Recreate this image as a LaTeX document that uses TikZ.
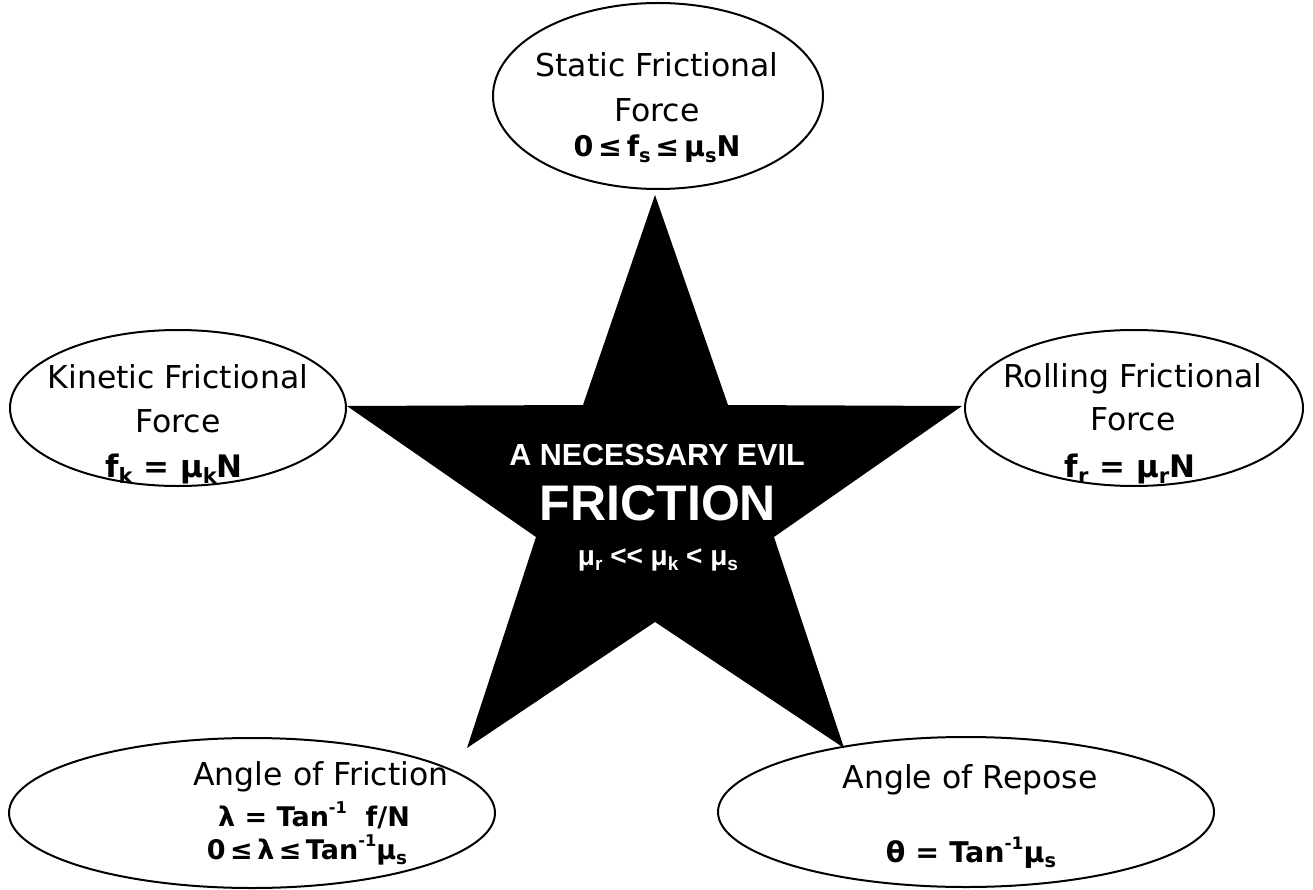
\documentclass[tikz,border=0pt]{standalone}
\usepackage{fontspec}
\setmainfont{DejaVu Sans}
\newfontfamily\arialf{Liberation Sans}
\usetikzlibrary{shapes.geometric}
\newcommand\lo[1]{\raisebox{-0.2em}{\scalebox{0.68}{#1}}}
\newcommand\hi[1]{\raisebox{0.45em}{\scalebox{0.6}{#1}}}
\begin{document}
\begin{tikzpicture}[x=1pt,y=-1pt,
  oval/.style={ellipse, draw=black, line width=2pt, fill=white, inner sep=0pt},
  lbl/.style={anchor=base, inner sep=0pt, font=\fontsize{31.5}{31.5}\selectfont},
  frm/.style={anchor=base, inner sep=0pt, font=\fontsize{28.5}{28.5}\selectfont\bfseries},
  frms/.style={anchor=base, inner sep=0pt, font=\fontsize{27}{27}\selectfont\bfseries},
  startxt/.style={anchor=base, inner sep=0pt, text=white}]
\useasboundingbox (0,0) rectangle (1313,890);
\fill[white] (0,0) rectangle (1313,890);
% star
\coordinate (sT) at (655,195);
\coordinate (sUR) at (728,405);
\coordinate (sR) at (962,406);
\coordinate (sLR) at (774,537);
\coordinate (sBR) at (844,748);
\coordinate (sB) at (655,622);
\coordinate (sBL) at (467,748);
\coordinate (sLL) at (536,537);
\coordinate (sL) at (347,406);
\coordinate (sUL) at (583,405);
\fill[black] (sT) -- (sUR) -- (sR) -- (sLR) -- (sBR) -- (sB) -- (sBL) -- (sLL) -- (sL) -- (sUL) -- cycle;
% ellipses
\node[oval, minimum width=330pt, minimum height=186pt] (static) at (658,96) {};
\node[oval, minimum width=336pt, minimum height=156pt] (kinetic) at (178,408) {};
\node[oval, minimum width=338pt, minimum height=156pt] (rolling) at (1134,408) {};
\node[oval, minimum width=486pt, minimum height=150pt] (afric) at (252,813) {};
\node[oval, minimum width=496pt, minimum height=150pt] (repose) at (966,812) {};
% static
\node[lbl] (st1) at (657,77) {Static Frictional};
\node[lbl] (st2) at (657,122) {Force};
\node[frm] (st3) at (657,157) {0\,≤\,f\lo{s}\,≤\,μ\lo{s}N};
% kinetic
\node[lbl] (ki1) at (178,388) {Kinetic Frictional};
\node[lbl] (ki2) at (178,432) {Force};
\node[frm, font=\fontsize{31}{31}\selectfont\bfseries] (ki3) at (174,477) {f\lo{k} = μ\lo{k}N};
% rolling
\node[lbl] (ro1) at (1133,387) {Rolling Frictional};
\node[lbl] (ro2) at (1133,430) {Force};
\node[frm, font=\fontsize{31}{31}\selectfont\bfseries] (ro3) at (1130,477) {f\lo{r} = μ\lo{r}N};
% angle of friction
\node[lbl] (af1) at (321,785) {Angle of Friction};
\node[frms] (af2) at (314,826) {λ = Tan\hi{-1}\ \ f/N};
\node[frms] (af3) at (307,859) {0\,≤\,λ\,≤\,Tan\hi{-1}μ\lo{s}};
% angle of repose
\node[lbl] (ar1) at (970,788) {Angle of Repose};
\node[frm] (ar2) at (971,862) {θ = Tan\hi{-1}μ\lo{s}};
% star text
\node[startxt, font=\arialf\bfseries\fontsize{30.5}{30.5}\selectfont] (cx1) at (657,465) {A NECESSARY EVIL};
\node[startxt, font=\arialf\bfseries\fontsize{50}{50}\selectfont] (cx2) at (658,520) {FRICTION};
\node[startxt, font=\arialf\bfseries\fontsize{28}{28}\selectfont] (cx3) at (658,565) {μ\lo{r} {<}{<} μ\lo{k} {<} μ\lo{s}};
\end{tikzpicture}
\end{document}
